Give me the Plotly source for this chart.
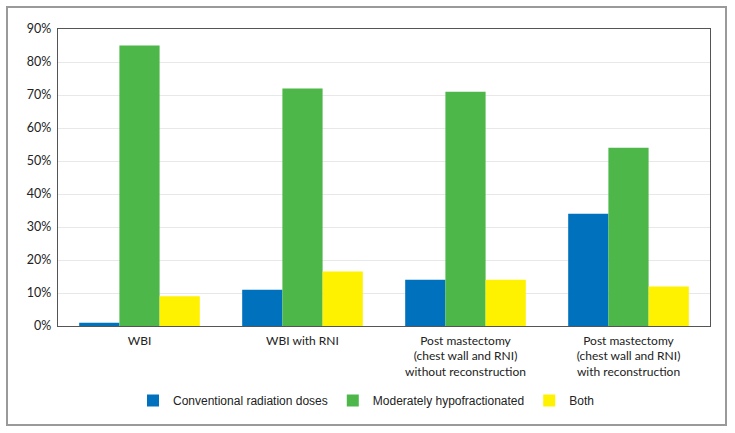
import plotly.graph_objects as go

categories = [
    "WBI",
    "WBI with RNI",
    "Post mastectomy<br>(chest wall and RNI)<br>without reconstruction",
    "Post mastectomy<br>(chest wall and RNI)<br>with reconstruction",
]
series_names = ["Conventional radiation doses", "Moderately hypofractionated", "Both"]
conventional = [1, 11, 14, 34]
hypofractionated = [85, 72, 71, 54]
both = [9, 16.5, 14, 12]
colors = ["#0071BC", "#4DB749", "#FFF200"]
y_ticks = [0, 10, 20, 30, 40, 50, 60, 70, 80, 90]
y_tick_labels = [f"{v}%" for v in y_ticks]

fig = go.Figure()
for name, vals, col in zip(series_names, [conventional, hypofractionated, both], colors):
    fig.add_trace(go.Bar(x=categories, y=vals, name=name, marker=dict(color=col, line=dict(width=0))))

L, R, T, B = 58, 25, 29, 107
W, H = 735, 433
pw, ph = W - L - R, H - T - B

def px_x(x):
    return (x - L) / pw

def px_y(y):
    return (H - B - y) / ph

fig.update_layout(
    width=W, height=H,
    margin=dict(l=L, r=R, t=T, b=B),
    paper_bgcolor="white", plot_bgcolor="white",
    barmode="group", bargap=0.26, bargroupgap=0,
    font=dict(family="Lato, sans-serif", size=12, color="#222"),
    showlegend=True,
    legend=dict(orientation="h", x=px_x(366), xanchor="center", y=px_y(386), yanchor="top",
                font=dict(family="Liberation Sans, Arial, sans-serif", size=12, color="#222"),
                bgcolor="rgba(0,0,0,0)"),
    xaxis=dict(showline=True, linecolor="#555", linewidth=1.2, mirror=True,
               showgrid=False, ticks="", tickfont=dict(size=12), ticklabelstandoff=3),
    yaxis=dict(range=[0, 90], tickvals=y_ticks, ticktext=y_tick_labels,
               showline=True, linecolor="#555", linewidth=1.2, mirror=True,
               showgrid=True, gridcolor="#e8e8e8", gridwidth=1, zeroline=False,
               ticks="", tickfont=dict(size=12.5), ticklabelstandoff=3),
    shapes=[dict(type="rect", xref="paper", yref="paper",
                 x0=px_x(7), x1=px_x(726), y0=px_y(425), y1=px_y(7),
                 line=dict(color="#9a9a9a", width=2), fillcolor="rgba(0,0,0,0)", layer="below")],
)

fig.write_html("out.html", config={"displayModeBar": False},
               post_script="document.body.style.margin='0';document.body.style.overflow='hidden';")
